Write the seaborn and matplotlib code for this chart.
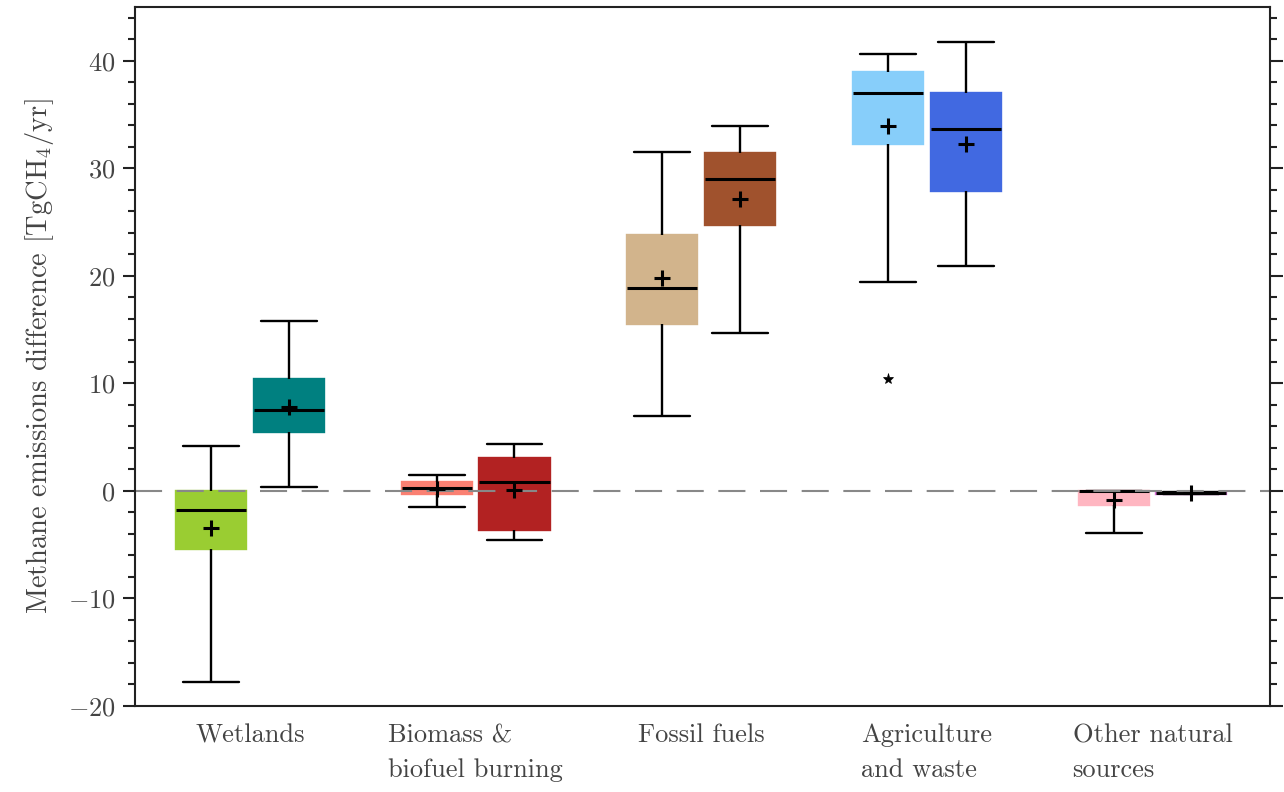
import matplotlib
matplotlib.use("Agg")
import matplotlib.pyplot as plt
import seaborn as sns
import pandas as pd
from matplotlib.ticker import MultipleLocator


categories = ["Wetlands", "Biomass &\nbiofuel burning", "Fossil fuels",
              "Agriculture\nand waste", "Other natural\nsources"]
sides = ["first", "second"]

# box summaries, one [first, second] pair per category
whisker_lo = [[-17.8, 0.35], [-1.5, -4.6], [7.0, 14.7], [19.4, 20.9], [-3.9, -0.35]]
q1 = [[-5.4, 5.45], [-0.3, -3.65], [15.5, 24.7], [32.3, 27.9], [-1.37, -0.3]]
median = [[-1.8, 7.55], [0.28, 0.8], [18.9, 29.0], [37.05, 33.7], [0.0, -0.25]]
q3 = [[0.0, 10.4], [0.85, 3.05], [23.8, 31.4], [39.0, 37.05], [0.0, -0.2]]
whisker_hi = [[4.2, 15.8], [1.5, 4.35], [31.5, 33.95], [40.65, 41.8], [0.0, -0.15]]
means = [[-3.5, 7.8], [0.15, 0.1], [19.75, 27.1], [33.9, 32.3], [-0.85, -0.25]]

outlier_cat = "Agriculture\nand waste"
outlier_side = "first"
outlier_val = 10.4

box_colors = [["yellowgreen", "teal"], ["salmon", "firebrick"], ["tan", "sienna"],
              ["lightskyblue", "royalblue"], ["lightpink", "orchid"]]

text_color = "#444444"
fs = 19


def build_frames():
    rows = []
    mean_rows = []
    for i, cat in enumerate(categories):
        for j, side in enumerate(sides):
            for v in (whisker_lo[i][j], q1[i][j], median[i][j], q3[i][j], whisker_hi[i][j]):
                rows.append({"category": cat, "side": side, "value": v})
            mean_rows.append({"category": cat, "side": side, "value": means[i][j]})
    return pd.DataFrame(rows), pd.DataFrame(mean_rows)


def main():
    sns.set_style("ticks")
    plt.rcParams["font.family"] = ["cmr10", "DejaVu Serif"]
    plt.rcParams["mathtext.fontset"] = "cm"
    plt.rcParams["axes.formatter.use_mathtext"] = True

    df, mean_df = build_frames()

    fig = plt.figure(figsize=(12.84, 7.92), dpi=100)
    ax = fig.add_axes([0.105, 0.109, 0.884, 0.882])

    sns.boxplot(data=df, x="category", y="value", hue="side", order=categories,
                hue_order=sides, width=0.69, gap=0.1, whis=(0, 100), saturation=1,
                linecolor="black", linewidth=1.7, legend=False, ax=ax,
                medianprops={"linewidth": 2.2})

    # each box gets its own colour, no outline (find which box by its centre)
    for patch in ax.patches:
        ext = patch.get_path().get_extents()
        xc = (ext.x0 + ext.x1) / 2
        i = int(round(xc))
        j = 0 if xc < i else 1
        c = box_colors[i][j]
        patch.set_facecolor(c)
        patch.set_edgecolor(c)

    # shorter caps
    for line in ax.lines:
        xd = line.get_xdata()
        yd = line.get_ydata()
        if len(xd) == 2 and yd[0] == yd[1] and abs(xd[1] - xd[0]) > 0:
            mid = (xd[0] + xd[1]) / 2
            half = abs(xd[1] - xd[0]) / 2
            if half < 0.12:
                line.set_xdata([mid - 0.124, mid + 0.124])

    sns.pointplot(data=mean_df, x="category", y="value", hue="side", order=categories,
                  hue_order=sides, dodge=0.345, markers="+", linestyles="none",
                  palette=["black", "black"], errorbar=None, legend=False, ax=ax,
                  markersize=11, markeredgewidth=2.2, zorder=5)

    out_df = pd.DataFrame({"category": [outlier_cat], "side": [outlier_side], "value": [outlier_val]})
    sns.pointplot(data=out_df, x="category", y="value", hue="side", order=categories,
                  hue_order=sides, dodge=0.345, markers="*", linestyles="none",
                  palette=["black", "black"], errorbar=None, legend=False, ax=ax,
                  markersize=8, markeredgewidth=0.5, zorder=5)

    ax.axhline(0, color="#888888", linewidth=1.5, dashes=(13, 7), zorder=2.5)

    ax.set_xlim(-0.51, 4.52)
    ax.set_ylim(-20, 45)
    ax.yaxis.set_major_locator(MultipleLocator(10))
    ax.yaxis.set_minor_locator(MultipleLocator(2))
    ax.tick_params(axis="y", which="both", left=True, right=True, direction="out",
                   width=1.5, colors="#222222", labelcolor=text_color, labelsize=fs)
    ax.tick_params(axis="y", which="major", length=9, pad=5)
    ax.tick_params(axis="y", which="minor", length=5)
    ax.tick_params(axis="x", length=0, pad=13, labelsize=fs, labelcolor=text_color)
    for lab in ax.get_xticklabels():
        lab.set_multialignment("left")
        lab.set_linespacing(1.6)

    for s in ax.spines.values():
        s.set_linewidth(1.5)
        s.set_color("#222222")

    ax.set_xlabel("")
    ax.set_ylabel("Methane emissions difference [TgCH$_4$/yr]", fontsize=fs + 1.5,
                  color=text_color, labelpad=8)

    fig.savefig("out.png", dpi=100)


main()
